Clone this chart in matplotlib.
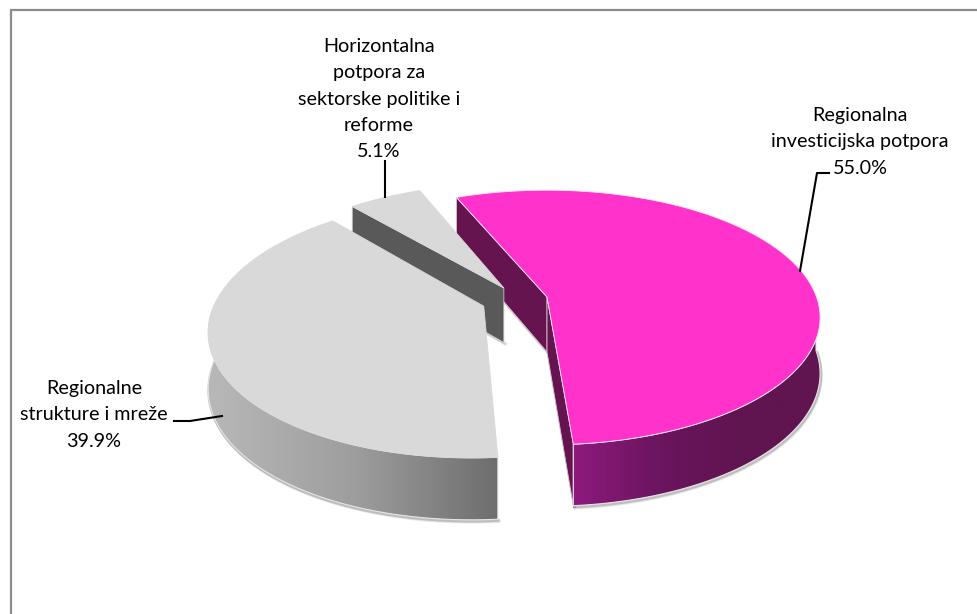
"""
Exploded 3D style pie drawn by hand with a perspective map of the pie plane
"""
import numpy as np
import matplotlib
matplotlib.use('Agg')
import matplotlib.pyplot as plt
from matplotlib.colors import LinearSegmentedColormap
from matplotlib.patches import Polygon

labels = ['Regionalna\ninvesticijska potpora', 'Regionalne\nstrukture i mreže',
          'Horizontalna\npotpora za\nsektorske politike i\nreforme']
shares = [55.0, 39.9, 5.1]
top_colors = ['#FF33CC', '#D9D9D9', '#D9D9D9']
side_colors = ['#661450', '#595959', '#595959']
rim_ramps = [['#8E1A7E', '#6C1560', '#601450', '#601450'], ['#B8B8B8', '#9E9E9E', '#6E6E6E'], ['#595959', '#595959']]

plt.rcParams['font.family'] = ['Lato', 'DejaVu Sans']

start_angle = -22.7
# slice tips on the pie plane (explosion), radius 1
tips = [(0.0, 0.0), (-0.2320, 0.0730), (-0.1620, -0.0734)]
x_radius = [1.0, 0.99, 1.0]
k = 0.161
A, B = 269.5, 124.0
x_van, y_mid = 547.0, 297.0


def to_px(U, V):
    w = 1 - k * V
    return x_van + A * U / w, y_mid + B * V / w


def drop(V):
    return 55 + 6.5 * V


def radial_wall(i, angle):
    t = np.radians(angle)
    U = np.array([tips[i][0], tips[i][0] + x_radius[i] * np.sin(t)])
    V = np.array([tips[i][1], tips[i][1] - np.cos(t)])
    x, y = to_px(U, V)
    return np.column_stack([np.r_[x, x[::-1]], np.r_[y, (y + drop(V))[::-1]]])


def wall_patch(i, angle, z):
    poly = radial_wall(i, angle)
    for off, alpha in [(2.5, 0.06), (1.5, 0.12)]:
        ax.plot(poly[2:, 0] + off * 0.7, poly[2:, 1] + off * 0.7, color='black', alpha=alpha, lw=2, zorder=1)
    ax.add_patch(Polygon(poly, fc=side_colors[i], ec='#c9c9c9' if i == 2 else '#d9c3d4', lw=0.6, zorder=z))


def rim_and_top(i, z_top, show_rim=True):
    t = np.radians(np.linspace(edges[i], edges[i + 1], 160))
    U = tips[i][0] + x_radius[i] * np.sin(t)
    V = tips[i][1] - np.cos(t)
    x, y = to_px(U, V)
    if show_rim:
        # only the front part of the rim can be seen
        front = V > tips[i][1] - 0.02
        px, py = x[front], y[front]
        sy = py + drop(V[front])
        for off, alpha in [(3.5, 0.05), (2.5, 0.09), (1.5, 0.14)]:
            ax.plot(px + off * 0.4, sy + off * 0.7, color='black', alpha=alpha, lw=2.2, zorder=1,
                    solid_capstyle='round')
        poly = np.column_stack([np.r_[px, px[::-1]], np.r_[py, sy[::-1]]])
        patch = Polygon(poly, fc='none', ec='#e4e4e4', lw=0.8, zorder=4)
        ax.add_patch(patch)
        cmap = LinearSegmentedColormap.from_list('rim%d' % i, rim_ramps[i])
        grad = np.linspace(0, 1, 256).reshape(1, -1)
        im = ax.imshow(grad, cmap=cmap, aspect='auto', extent=[px.min(), px.max(), sy.max(), py.min()], zorder=3.5)
        im.set_clip_path(patch)
    tx, ty = to_px(*tips[i])
    outline = np.column_stack([np.r_[tx, x], np.r_[ty, y]])
    ax.add_patch(Polygon(outline, fc=top_colors[i], ec='#f6e6f2' if i == 0 else '#D9D9D9', lw=0.6, zorder=z_top))


fig = plt.figure(figsize=(9.77, 6.14), dpi=100)
ax = fig.add_axes([0, 0, 1, 1])

edges = start_angle + np.concatenate([[0], np.cumsum(shares)]) * 3.6

# back to front: back wall of the pink slice goes under the small slice
wall_patch(0, edges[0], 1.5)
wall_patch(2, edges[2], 2)
rim_and_top(2, 2.5, show_rim=False)
rim_and_top(1, 5)
wall_patch(0, edges[1], 3)
rim_and_top(0, 5)

# outer chart frame: left and top only
ax.plot([11, 11, 977], [614, 9.5, 9.5], color='#8c8c8c', lw=1.6, zorder=0, solid_joinstyle='miter')

txt = dict(ha='center', va='center', fontsize=14.2, color='black', linespacing=1.65, zorder=8)
ax.text(860, 142, labels[0] + '\n' + f'{shares[0]:.1f}%', **txt)
ax.text(94, 415, labels[1] + '\n' + f'{shares[1]:.1f}%', **txt)
ax.text(379, 99, labels[2] + '\n' + f'{shares[2]:.1f}%', **txt)

# leader lines
ax.plot([829, 817, 800], [173, 173, 271], color='black', lw=1.5, zorder=7)
ax.plot([174, 190, 222], [421, 421, 416], color='black', lw=1.5, zorder=7)
ax.plot([385, 385], [161, 197], color='black', lw=1.5, zorder=7)

ax.set_xlim(0, 977)
ax.set_ylim(614, 0)
ax.axis('off')

fig.savefig('out.png', dpi=100, facecolor='white')
